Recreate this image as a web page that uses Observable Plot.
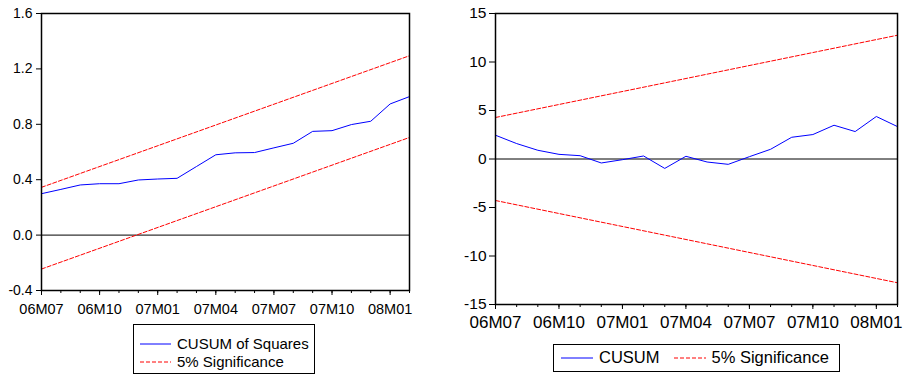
<!DOCTYPE html>
<html>
<head>
<meta charset="utf-8">
<script src="https://cdn.jsdelivr.net/npm/d3@7"></script>
<script src="https://cdn.jsdelivr.net/npm/@observablehq/plot@0.6"></script>
<style>
  body { margin: 0; background: #fff; }
  #wrap { position: relative; width: 903px; height: 379px; background: #fff; font-family: "Liberation Sans", Arial, sans-serif; color: #000; }
  .panel { position: absolute; top: 0; }
  .legend { position: absolute; border: 1px solid #000; background: #fff; box-sizing: border-box; }
  .row { position: absolute; display: flex; align-items: center; white-space: nowrap; }
  .row svg { margin-right: 6px; }
</style>
</head>
<body>
<div id="wrap">
  <div id="left" class="panel" style="left:0"></div>
  <div id="right" class="panel" style="left:460px"></div>
  <div class="legend" style="left:133px; top:324px; width:182px; height:50px; font-size:15px;">
    <div class="row" style="left:6px; top:10px;"><svg width="31" height="4"><line x1="0" x2="31" y1="2" y2="2" stroke="#0000ff" stroke-width="1"/></svg><span>CUSUM of Squares</span></div>
    <div class="row" style="left:6px; top:28px;"><svg width="31" height="4"><line x1="0" x2="31" y1="2" y2="2" stroke="#ff0000" stroke-width="1" stroke-dasharray="4,2"/></svg><span>5% Significance</span></div>
  </div>
  <div class="legend" style="left:553px; top:344px; width:287px; height:28px; font-size:16.5px;">
    <div class="row" style="left:7px; top:3px;"><svg width="32" height="4"><line x1="0" x2="32" y1="2" y2="2" stroke="#0000ff" stroke-width="1"/></svg><span style="margin-right:14px">CUSUM</span><svg width="32" height="4"><line x1="0" x2="32" y1="2" y2="2" stroke="#ff0000" stroke-width="1" stroke-dasharray="4,2"/></svg><span>5% Significance</span></div>
  </div>
</div>
<script>
const months = ["06M07","06M08","06M09","06M10","06M11","06M12","07M01","07M02","07M03","07M04",
                "07M05","07M06","07M07","07M08","07M09","07M10","07M11","07M12","08M01","08M02"];
const xTickLabels = ["06M07","06M10","07M01","07M04","07M07","07M10","08M01"];

const cusumSq = [0.299,0.33,0.362,0.371,0.371,0.398,0.405,0.41,0.495,0.58,
                 0.594,0.596,0.63,0.663,0.749,0.754,0.798,0.822,0.947,1.0];
const sqUpper = [0.345, 1.295];   // straight line: first and last month
const sqLower = [-0.245, 0.705];
const sqTicks = [-0.4, 0.0, 0.4, 0.8, 1.2, 1.6];

const cusum = [2.45,1.59,0.9,0.48,0.34,-0.41,-0.07,0.31,-0.97,0.28,
               -0.31,-0.55,0.24,1.0,2.24,2.52,3.48,2.83,4.38,3.34];
const cusumUpper = [4.28, 12.76];
const cusumLower = [-4.28, -12.76];
const cusumTicks = [-15, -10, -5, 0, 5, 10, 15];

const ends = [months[0], months[months.length - 1]];

function panel({series, upper, lower, yDomain, yTicks, yFmt, width, height, ml, mr, mt, mb,
                yPad, ySize, yFont, xPad, xFont}) {
  const idx = d => months.indexOf(d);
  const line = months.map((m, i) => ({x: idx(m), y: series[i]}));
  const up = ends.map((m, i) => ({x: idx(m), y: upper[i]}));
  const lo = ends.map((m, i) => ({x: idx(m), y: lower[i]}));
  const labelTicks = xTickLabels.map(idx);
  return Plot.plot({
    width, height,
    marginLeft: ml, marginRight: mr, marginTop: mt, marginBottom: mb,
    style: {fontFamily: "'Liberation Sans', Arial, sans-serif", fontSize: "14.5px", color: "#000", background: "#fff"},
    x: {domain: [0, months.length - 1], label: null},
    y: {domain: yDomain, label: null},
    marks: [
      Plot.ruleY([0], {stroke: "#000", strokeWidth: 1}),
      Plot.line(up, {x: "x", y: "y", stroke: "#ff0000", strokeWidth: 1, strokeDasharray: "4,2"}),
      Plot.line(lo, {x: "x", y: "y", stroke: "#ff0000", strokeWidth: 1, strokeDasharray: "4,2"}),
      Plot.line(line, {x: "x", y: "y", stroke: "#0000ff", strokeWidth: 1}),
      Plot.frame({stroke: "#000", strokeWidth: 1.5}),
      Plot.axisY({ticks: yTicks, tickFormat: yFmt, tickSize: ySize, tickPadding: yPad, fontSize: yFont, label: null}),
      Plot.axisX({ticks: d3.range(months.length), tickSize: 3, tickFormat: () => "", label: null}),
      Plot.axisX({ticks: labelTicks, tickSize: 5, tickPadding: xPad, fontSize: xFont, tickFormat: i => months[i], label: null})
    ]
  });
}

document.getElementById("left").append(panel({
  series: cusumSq, upper: sqUpper, lower: sqLower,
  yDomain: [-0.4, 1.6], yTicks: sqTicks, yFmt: d => d.toFixed(1),
  width: 440, height: 320, ml: 41, mr: 31, mt: 13, mb: 30,
  yPad: 4, ySize: 5, yFont: 14, xPad: 8, xFont: 14.5
}));

document.getElementById("right").append(panel({
  series: cusum, upper: cusumUpper, lower: cusumLower,
  yDomain: [-15, 15], yTicks: cusumTicks, yFmt: d => String(d),
  width: 443, height: 334, ml: 35, mr: 6, mt: 13, mb: 30,
  yPad: 3, ySize: 6, yFont: 15.5, xPad: 6, xFont: 17
}));
</script>
</body>
</html>
